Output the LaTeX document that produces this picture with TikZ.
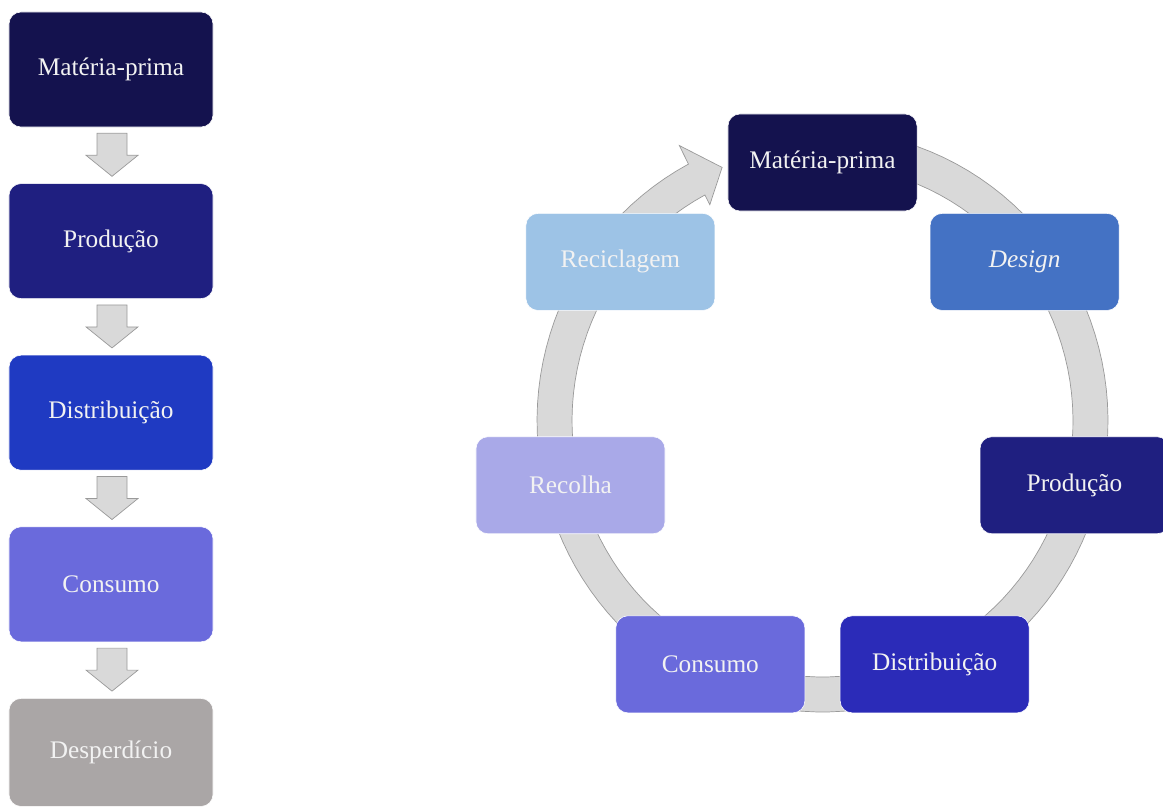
\documentclass[tikz,border=0pt]{standalone}
\usepackage{fontspec}
\setmainfont{Liberation Serif}
\usepackage{xcolor}
\usepackage{tikz}
\usetikzlibrary{positioning, calc}

\definecolor{cmateria}{HTML}{14124E}
\definecolor{cproducao}{HTML}{1F1F80}
\definecolor{cdistrib}{HTML}{1F3AC2}
\definecolor{cdistribcyc}{HTML}{2B2BB8}
\definecolor{cconsumo}{HTML}{6A6ADC}
\definecolor{cdesp}{HTML}{AAA6A6}
\definecolor{cdesign}{HTML}{4472C4}
\definecolor{crecolha}{HTML}{A9A9E8}
\definecolor{crecicl}{HTML}{9DC3E6}
\definecolor{ringgrey}{HTML}{D9D9D9}
\definecolor{ringedge}{HTML}{9A9A9A}
\definecolor{boxtext}{HTML}{F2F2F2}

\begin{document}
\begin{tikzpicture}[
    x=0.025cm, y=-0.025cm,
    node distance=1.4cm,
    box/.style={rectangle, draw=white, line width=0.4pt, minimum width=5.1cm, minimum height=2.875cm, inner sep=0pt, text centered, rounded corners=0.3cm, text=boxtext, font=\fontsize{18}{21}\selectfont},
    cycbox/.style={box, minimum width=4.725cm, minimum height=2.425cm},
    blockarrow/.style={fill=ringgrey, draw=ringedge, line width=0.5pt, line join=miter},
    ring/.style={fill=ringgrey, draw=ringedge, line width=0.5pt}
]
    \useasboundingbox (0,0) rectangle (1163,809);

    % Linear model
    \node [box, fill=cmateria] (materia) at (111,69.5) {Matéria-prima};
    \node [box, below=of materia, fill=cproducao] (producao) {Produção};
    \node [box, below=of producao, fill=cdistrib] (distribuicao) {Distribuição};
    \node [box, below=of distribuicao, fill=cconsumo] (consumo) {Consumo};
    \node [box, below=of consumo, fill=cdesp, minimum height=2.7cm] (desperdicio) {Desperdício};

    % Block arrows between the steps
    \foreach \a/\b in {materia/producao, producao/distribuicao, distribuicao/consumo, consumo/desperdicio}
        \draw [blockarrow] ($(\a.south)+(-14,6)$) -- ($(\a.south)+(16,6)$) -- ($(\a.south)+(16,28)$)
            -- ($(\a.south)+(27,28)$) -- ($(\b.north)+(1,-7)$) -- ($(\a.south)+(-25,28)$)
            -- ($(\a.south)+(-14,28)$) -- cycle;

    % Circular model: places of the seven steps
    \foreach \i in {0,...,6}
        \coordinate (p\i) at ({822.5+258.5*cos(90-\i*360/7)},{426.5-264*sin(90-\i*360/7)});

    % Ring arrow behind the boxes
    \path [ring] plot [domain=90:-242, samples=120] ({822.5+285.5*cos(\x)},{421-291*sin(\x)})
        -- ({822.5+305*cos(118)},{421-312*sin(118)})
        -- ({822.5+268*cos(112)},{421-273.5*sin(112)})
        -- ({822.5+240*cos(118)},{421-245*sin(118)})
        -- plot [domain=-242:90, samples=120] ({822.5+250.5*cos(\x)},{421-256*sin(\x)})
        -- cycle;

    % Steps of the cycle
    \node [cycbox, fill=cmateria] (cyc_materia) at (p0) {Matéria-prima};
    \node [cycbox, fill=cdesign] (cyc_design) at (p1) {\textit{Design}};
    \node [cycbox, fill=cproducao] (cyc_producao) at (p2) {Produção};
    \node [cycbox, fill=cdistribcyc] (cyc_distribuicao) at (p3) {Distribuição};
    \node [cycbox, fill=cconsumo] (cyc_consumo) at (p4) {Consumo};
    \node [cycbox, fill=crecolha] (cyc_recolha) at (p5) {Recolha};
    \node [cycbox, fill=crecicl] (cyc_reciclagem) at (p6) {Reciclagem};

\end{tikzpicture}
\end{document}
